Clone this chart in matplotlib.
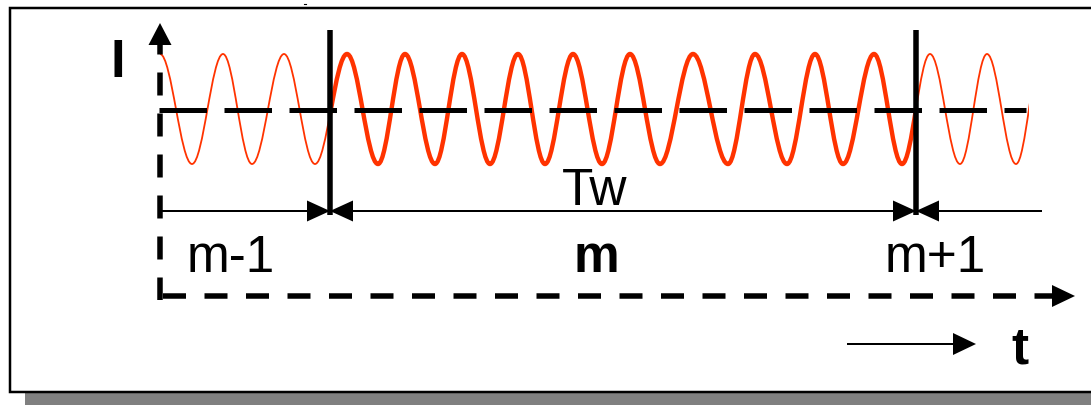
import matplotlib
matplotlib.use("Agg")
import matplotlib.pyplot as plt
from matplotlib.path import Path
from matplotlib.patches import PathPatch, Polygon, Rectangle

plt.rcParams['font.family'] = ['Liberation Sans', 'DejaVu Sans']
plt.rcParams['lines.scale_dashes'] = False

## wave (pixel positions)
crest_x = [160, 223, 284, 347, 405, 462, 518, 573, 630, 693, 755, 815, 874, 930, 987, 1042]
trough_x = [192, 252, 315, 378, 435, 490, 545, 602, 660, 728, 787, 843, 902, 960, 1016]
crest_y = 54
trough_y = 164
wave_end_x = 1028.5

## frame boundaries and labels
frame_x = [330, 916]
frame_labels = ['m-1', 'm', 'm+1']
frame_label_x = [231, 596, 935]
frame_label_bold = [False, True, False]

PX = 0.72          # points per pixel at dpi 100
RED = '#ff3300'
K = 0.364          # bezier handle length for a half sine

fig = plt.figure(figsize=(10.91, 4.05), dpi=100)
ax = fig.add_axes([0, 0, 1, 1])
ax.set_xlim(0, 1091)
ax.set_ylim(405, 0)
ax.axis('off')

# shadow + frame box
ax.add_patch(Rectangle((25, 20), 1100, 400, fc='#808080', ec='none', zorder=0))
ax.add_patch(Rectangle((10, 8), 1100, 384, fc='white', ec='black', lw=2.5 * PX, zorder=1))
ax.plot([304, 306], [3.5, 3.5], color='black', lw=0.8, zorder=1)

# sine wave as a chain of cubic beziers between crests and troughs
ext = sorted([(x, crest_y) for x in crest_x] + [(x, trough_y) for x in trough_x])
verts = [ext[0]]
codes = [Path.MOVETO]
for (x0, y0), (x1, y1) in zip(ext[:-1], ext[1:]):
    d = x1 - x0
    verts += [(x0 + K * d, y0), (x1 - K * d, y1), (x1, y1)]
    codes += [Path.CURVE4] * 3
wave = Path(verts, codes)

clips = [((0, 0), frame_x[0], 1.8 * PX),
         ((frame_x[0], 0), frame_x[1] - frame_x[0], 4.4 * PX),
         ((frame_x[1], 0), wave_end_x - frame_x[1], 1.8 * PX)]
for (xy, w, lw) in clips:
    p = PathPatch(wave, fill=False, ec=RED, lw=lw, zorder=2, capstyle='butt')
    ax.add_patch(p)
    p.set_clip_path(Rectangle(xy, w, 405, transform=ax.transData))

# dashed mean line
ax.plot([159, 1026], [109.5, 109.5], color='black', lw=5 * PX,
        linestyle=(0, (47.5 * PX, 17.5 * PX)), dash_capstyle='butt', zorder=3)


def head(tip_x, tip_y, dx, dy, length=23, half=10.5, z=4):
    bx, by = tip_x - dx * length, tip_y - dy * length
    px, py = -dy * half, dx * half
    ax.add_patch(Polygon([(tip_x, tip_y), (bx + px, by + py), (bx - px, by - py)],
                         closed=True, fc='black', ec='none', zorder=z))


# dashed axes
ax.plot([160, 160], [299.5, 45], color='black', lw=5.5 * PX,
        linestyle=(0.5 * PX, (23 * PX, 18 * PX)), dash_capstyle='butt', zorder=3)
ax.plot([163, 1052], [296, 296], color='black', lw=5.5 * PX,
        linestyle=(0, (23 * PX, 18.5 * PX)), dash_capstyle='butt', zorder=3)
head(160, 23, 0, -1, length=22, half=11.5)
head(1075, 296, 1, 0, length=23, half=11)

# frame boundaries
for fx in frame_x:
    ax.plot([fx, fx], [30, 215], color='black', lw=5.5 * PX, solid_capstyle='butt', zorder=4)

# dimension arrows
dim_y = 211
ax.plot([163, 1041], [dim_y, dim_y], color='black', lw=2 * PX, zorder=4)
head(frame_x[0], dim_y, 1, 0)
head(frame_x[0], dim_y, -1, 0)
head(frame_x[1], dim_y, 1, 0)
head(frame_x[1], dim_y, -1, 0)

# small time arrow
ax.plot([848, 960], [344, 344], color='black', lw=2 * PX, zorder=4)
head(976, 344, 1, 0, length=23, half=11)

# texts
ax.text(118, 77, 'I', fontsize=38, fontweight='bold', ha='center', va='baseline', zorder=5)
ax.text(595, 205, 'Tw', fontsize=37, ha='center', va='baseline', zorder=5)
for lab, lx, b in zip(frame_labels, frame_label_x, frame_label_bold):
    ax.text(lx, 272, lab, fontsize=37, fontweight='bold' if b else 'normal',
            ha='center', va='baseline', zorder=5)
ax.text(1019.5, 363, 't', fontsize=37, fontweight='bold', ha='center', va='baseline', zorder=5)

fig.savefig('out.png', dpi=100)
